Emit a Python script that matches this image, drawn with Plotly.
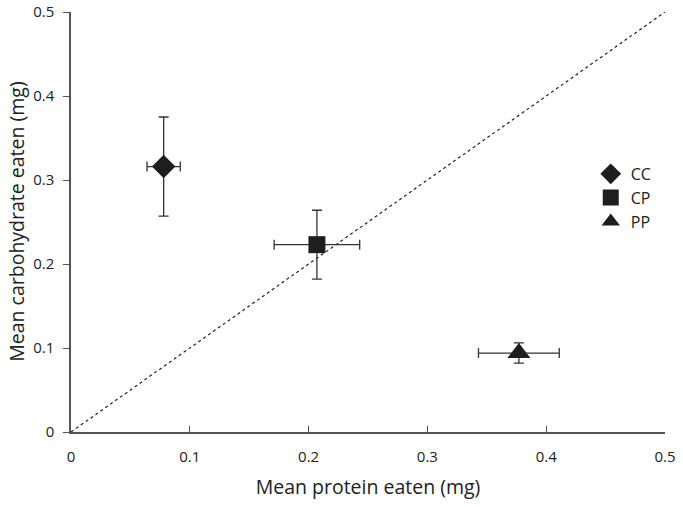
import plotly.graph_objects as go

groups = ["CC", "CP", "PP"]
protein = [0.078, 0.207, 0.377]
carb = [0.316, 0.223, 0.094]
protein_err = [0.014, 0.036, 0.034]
carb_err = [0.059, 0.041, 0.012]
symbols = ["diamond", "square", "triangle-up"]
sizes = [18, 17, 20]
ref_x = [0, 0.5]
ref_y = [0, 0.5]
tick_vals = [0, 0.1, 0.2, 0.3, 0.4, 0.5]
tick_text = ["0", "0.1", "0.2", "0.3", "0.4", "0.5"]

fig = go.Figure()
fig.add_trace(go.Scatter(x=ref_x, y=ref_y, mode="lines", showlegend=False,
                         line=dict(color="#222", width=1.2, dash="dot"), hoverinfo="skip"))
for i, g in enumerate(groups):
    fig.add_trace(go.Scatter(
        x=[protein[i]], y=[carb[i]], mode="markers", name=g,
        marker=dict(symbol=symbols[i], size=sizes[i], color="#1e1e1e", line=dict(width=0)),
        error_x=dict(type="data", array=[protein_err[i]], color="#333", thickness=1.3, width=5),
        error_y=dict(type="data", array=[carb_err[i]], color="#333", thickness=1.3, width=5),
    ))

font = "Open Sans, Noto Sans, sans-serif"
fig.update_layout(
    width=683, height=507,
    margin=dict(l=71, r=18, t=12, b=75),
    paper_bgcolor="white", plot_bgcolor="white",
    font=dict(family=font, color="#222", size=15),
    legend=dict(x=0.875, y=0.655, xanchor="left", yanchor="top", bgcolor="rgba(0,0,0,0)",
                font=dict(size=16), itemsizing="trace", tracegroupgap=0),
    xaxis=dict(range=[0, 0.5], tickvals=tick_vals, ticktext=tick_text, automargin=False,
               showgrid=False, zeroline=False, showline=True, linecolor="#555", linewidth=1.5,
               ticks="inside", ticklen=6, tickcolor="#555", ticklabelstandoff=10,
               tickfont=dict(size=15, family=font, color="#222"),
               title=dict(text="Mean protein eaten (mg)", font=dict(size=19.5), standoff=16)),
    yaxis=dict(range=[0, 0.5], tickvals=tick_vals, ticktext=tick_text, automargin=False,
               showgrid=False, zeroline=False, showline=True, linecolor="#555", linewidth=1.5,
               ticks="outside", ticklen=6, tickcolor="#555", ticklabelstandoff=6,
               ticklabeloverflow="allow",
               tickfont=dict(size=15, family=font, color="#222")),
    annotations=[dict(text="Mean carbohydrate eaten (mg)", xref="paper", yref="paper",
                      x=-0.093, y=0.5, xanchor="center", yanchor="middle", textangle=-90,
                      showarrow=False, font=dict(size=19.5, family=font, color="#222"))],
)
fig.write_html("out.html", config={"displayModeBar": False},
               post_script="document.body.style.margin='0';")
